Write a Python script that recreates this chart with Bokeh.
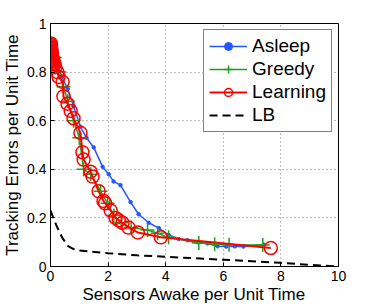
from bokeh.plotting import figure
from bokeh.models import FixedTicker, Legend, LegendItem, CustomJSTickFormatter, Range1d
from bokeh.embed import file_html
from bokeh.resources import INLINE

# ---- data ----
asleep_x = [0.02, 0.2, 0.4, 0.6, 0.8, 1.04, 1.25, 1.5, 1.81, 2.02, 2.19, 2.43, 2.78, 3.06, 3.41, 3.76, 4.1, 4.45, 4.76, 5.1, 5.45, 5.8, 6.1, 6.4, 6.7, 7.4]
asleep_y = [0.91, 0.84, 0.78, 0.73, 0.66, 0.575, 0.53, 0.49, 0.41, 0.38, 0.35, 0.335, 0.265, 0.215, 0.18, 0.158, 0.13, 0.113, 0.108, 0.10, 0.095, 0.083, 0.082, 0.083, 0.082, 0.09]

greedy_x = [0.03, 0.15, 0.3, 0.45, 0.6, 0.8, 1.0, 1.15, 1.4, 1.74, 1.98, 2.2, 2.45, 2.8, 3.37, 3.72, 4.1, 5.15, 5.7, 6.2, 7.37]
greedy_y = [0.91, 0.86, 0.80, 0.74, 0.68, 0.60, 0.53, 0.40, 0.38, 0.31, 0.26, 0.21, 0.18, 0.16, 0.15, 0.137, 0.12, 0.097, 0.092, 0.09, 0.088]

learn_x = [0.01, 0.01, 0.015, 0.02, 0.02, 0.025, 0.03, 0.03, 0.035, 0.04, 0.045, 0.05, 0.06, 0.07, 0.08, 0.09, 0.10, 0.12, 0.14, 0.17,
           0.24, 0.28, 0.42, 0.45, 0.59, 0.70, 0.80, 1.04, 1.11, 1.15, 1.39, 1.46, 1.67, 1.84, 1.90, 2.09, 2.26, 2.37, 2.50, 2.71, 3.03, 3.83, 7.65]
learn_y = [0.918, 0.912, 0.906, 0.90, 0.895, 0.89, 0.885, 0.88, 0.876, 0.872, 0.868, 0.864, 0.86, 0.856, 0.852, 0.848, 0.844, 0.838, 0.832, 0.82,
           0.80, 0.78, 0.76, 0.70, 0.67, 0.64, 0.61, 0.55, 0.47, 0.44, 0.39, 0.37, 0.31, 0.27, 0.26, 0.23, 0.20, 0.19, 0.18, 0.16, 0.14, 0.12, 0.076]

lb_x = [0.0, 0.2, 0.4, 0.6, 0.8, 1.0, 2.0, 3.0, 4.0, 5.0, 6.0, 7.0, 8.0, 9.0, 10.0]
lb_y = [0.23, 0.17, 0.12, 0.085, 0.072, 0.066, 0.055, 0.046, 0.04, 0.034, 0.028, 0.022, 0.015, 0.007, 0.0]

x_ticks = [0, 2, 4, 6, 8, 10]
y_ticks = [0, 0.2, 0.4, 0.6, 0.8, 1.0]
x_title = "Sensors Awake per Unit Time"
y_title = "Tracking Errors per Unit Time"

FONT = "Liberation Sans"
BLUE = "#2456ff"
GREEN = "#1fa01f"
RED = "#ff0000"

p = figure(width=374, height=308, output_backend="svg", toolbar_location=None,
           x_range=Range1d(0, 10), y_range=Range1d(0, 1),
           min_border_left=50, min_border_right=36, min_border_top=23, min_border_bottom=42)
p.background_fill_color = "white"
p.border_fill_color = "white"
p.outline_line_color = "black"
p.outline_line_width = 1

fmt = CustomJSTickFormatter(code="return String(Math.round(tick*10)/10);")

p.xaxis.ticker = FixedTicker(ticks=x_ticks)
p.yaxis.ticker = FixedTicker(ticks=y_ticks)
p.yaxis.formatter = fmt
p.xaxis.axis_label = x_title
p.yaxis.axis_label = y_title
p.xaxis.axis_label_standoff = 1
p.yaxis.axis_label_standoff = 2
for ax in p.xaxis + p.yaxis:
    ax.axis_line_color = "black"
    ax.major_tick_in = 4
    ax.major_tick_out = 0
    ax.minor_tick_in = 0
    ax.minor_tick_out = 0
    ax.major_tick_line_color = "black"
    ax.major_label_text_font = FONT
    ax.major_label_text_font_size = "14px"
    ax.major_label_text_color = "black"
    ax.major_label_standoff = 4
    ax.axis_label_text_font = FONT
    ax.axis_label_text_font_size = "17px"
    ax.axis_label_text_font_style = "normal"
    ax.axis_label_text_color = "black"

p.xgrid.ticker = FixedTicker(ticks=x_ticks)
p.ygrid.ticker = FixedTicker(ticks=y_ticks)
p.grid.grid_line_color = "#777777"
p.grid.grid_line_dash = "1 3"
p.grid.grid_line_width = 1

r_al = p.line(asleep_x, asleep_y, line_color=BLUE, line_width=1.5)
r_am = p.scatter(asleep_x, asleep_y, marker="circle", size=3.5, fill_color=BLUE, line_color=BLUE)
r_gl = p.line(greedy_x, greedy_y, line_color=GREEN, line_width=1.5)
r_gm = p.scatter(greedy_x, greedy_y, marker="cross", size=14, line_color=GREEN, line_width=1.5)
r_ll = p.line(learn_x, learn_y, line_color=RED, line_width=2)
r_lm = p.scatter(learn_x, learn_y, marker="circle", size=13, fill_color=None, line_color=RED, line_width=1.5)
r_lb = p.line(lb_x, lb_y, line_color="black", line_width=2, line_dash="8 5")

legend = Legend(items=[
    LegendItem(label="Asleep", renderers=[r_al, r_am]),
    LegendItem(label="Greedy", renderers=[r_gl, r_gm]),
    LegendItem(label="Learning", renderers=[r_ll, r_lm]),
    LegendItem(label="LB", renderers=[r_lb]),
], location="top_right")
legend.label_text_font = FONT
legend.label_text_font_size = "19px"
legend.label_text_color = "black"
legend.glyph_width = 38
legend.glyph_height = 20
legend.label_height = 20
legend.label_standoff = 5
legend.spacing = 1
legend.padding = 5
legend.margin = 6
legend.border_line_color = "black"
legend.border_line_width = 1
legend.background_fill_color = "white"
legend.background_fill_alpha = 1
p.add_layout(legend, "center")

open("out.html", "w").write(file_html(p, INLINE))
